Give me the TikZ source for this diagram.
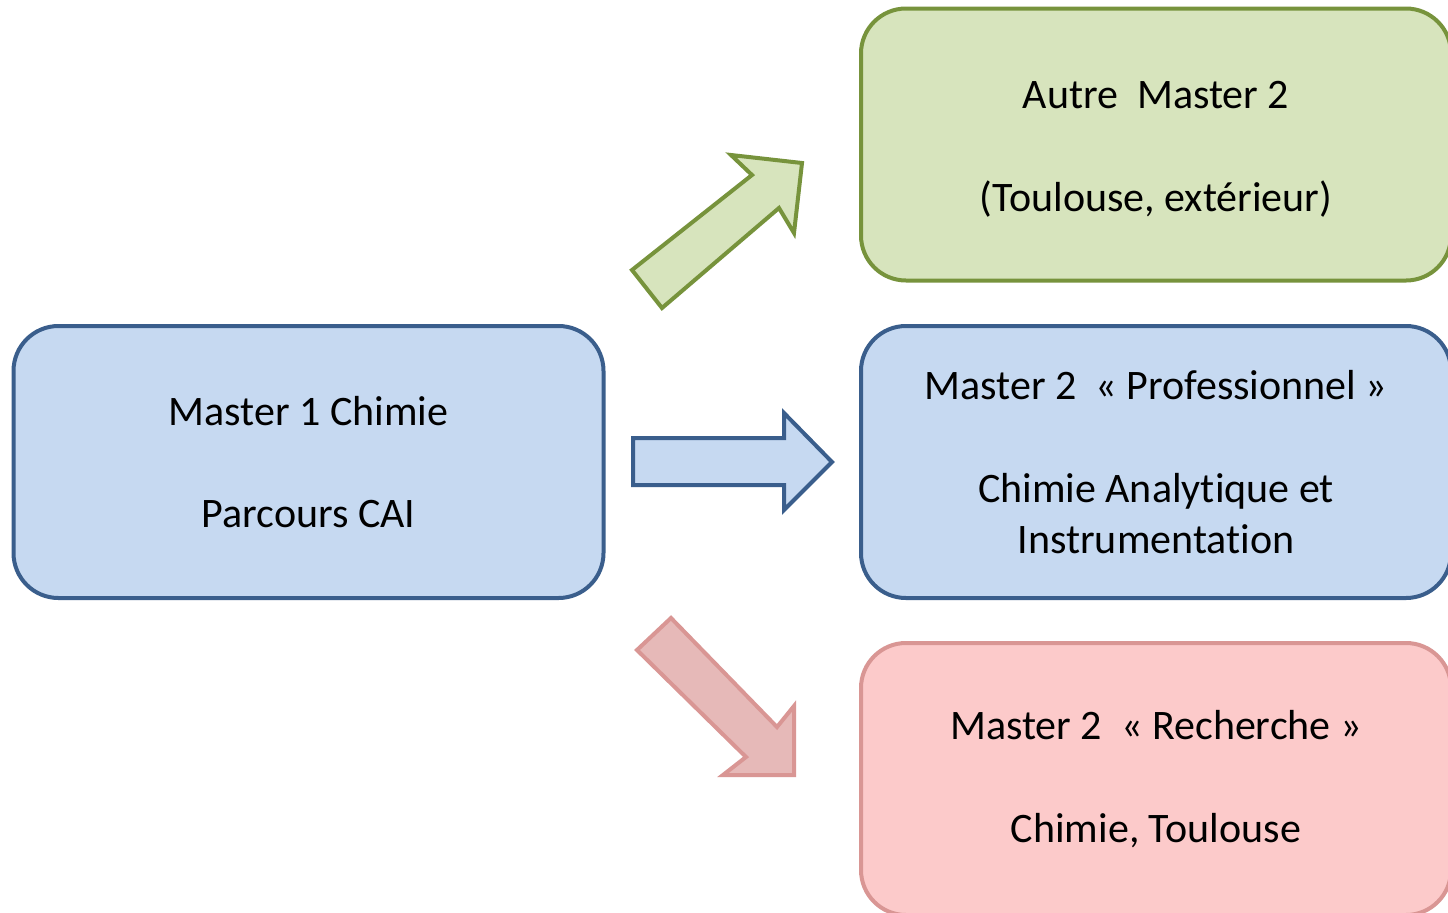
\documentclass[tikz,border=0pt]{standalone}
\usepackage{fontspec}
\setmainfont{Carlito}[Ligatures={NoCommon,NoRare,NoContextual},RawFeature={-liga;-clig;-calt;-dlig}]
\definecolor{bluefill}{HTML}{C6D9F1}
\definecolor{bluedraw}{HTML}{3A5E8C}
\definecolor{greenfill}{HTML}{D7E4BD}
\definecolor{greendraw}{HTML}{77933C}
\definecolor{redfill}{HTML}{FCCACA}
\definecolor{reddraw}{HTML}{D99694}
\definecolor{redarrow}{HTML}{E6B9B8}
\tikzset{
  box/.style={rounded corners=22.5pt, line width=2pt, minimum width=295pt,
    minimum height=136pt, align=center, inner sep=0pt,
    font=\fontsize{21}{25.6}\selectfont},
  bluebox/.style={box, draw=bluedraw, fill=bluefill},
  greenbox/.style={box, draw=greendraw, fill=greenfill},
  redbox/.style={box, draw=reddraw, fill=redfill},
  blockarrow/.style={line width=2pt, line join=miter},
}
\begin{document}
\begin{tikzpicture}[x=0.5pt, y=-0.5pt]
\clip (0,0) rectangle (1448,912);
\fill[white] (0,0) rectangle (1448,912);
\node[bluebox] (m1) at (308.5,462) {Master 1 Chimie\\[25.6pt]Parcours CAI};
\node[greenbox] (autre) at (1156,144.5) {\\[-7pt]Autre\ \ Master 2\\[25.6pt](Toulouse, extérieur)};
\node[bluebox] (pro) at (1156,462) {Master 2\ \ « Professionnel »\\[25.6pt]Chimie Analyt\kern0pt ique et\\Instrumentat\kern0pt ion};
\node[redbox] (rech) at (1156,779) {Master 2\ \ « Recherche »\\[25.6pt]Chimie, Toulouse};
% block arrows
\draw[blockarrow, draw=greendraw, fill=greenfill]
  (632,270) -- (752,175) -- (731,155) -- (802,163) -- (794,233) -- (779,208) -- (662,308) -- cycle;
\draw[blockarrow, draw=bluedraw, fill=bluefill]
  (633,438) -- (784,438) -- (784,413) -- (832,462) -- (784,510) -- (784,485) -- (633,485) -- cycle;
\draw[blockarrow, draw=reddraw, fill=redarrow]
  (671,618) -- (777,727) -- (794,706) -- (794,775) -- (723,775) -- (746,757) -- (637,650) -- cycle;
\end{tikzpicture}
\end{document}
